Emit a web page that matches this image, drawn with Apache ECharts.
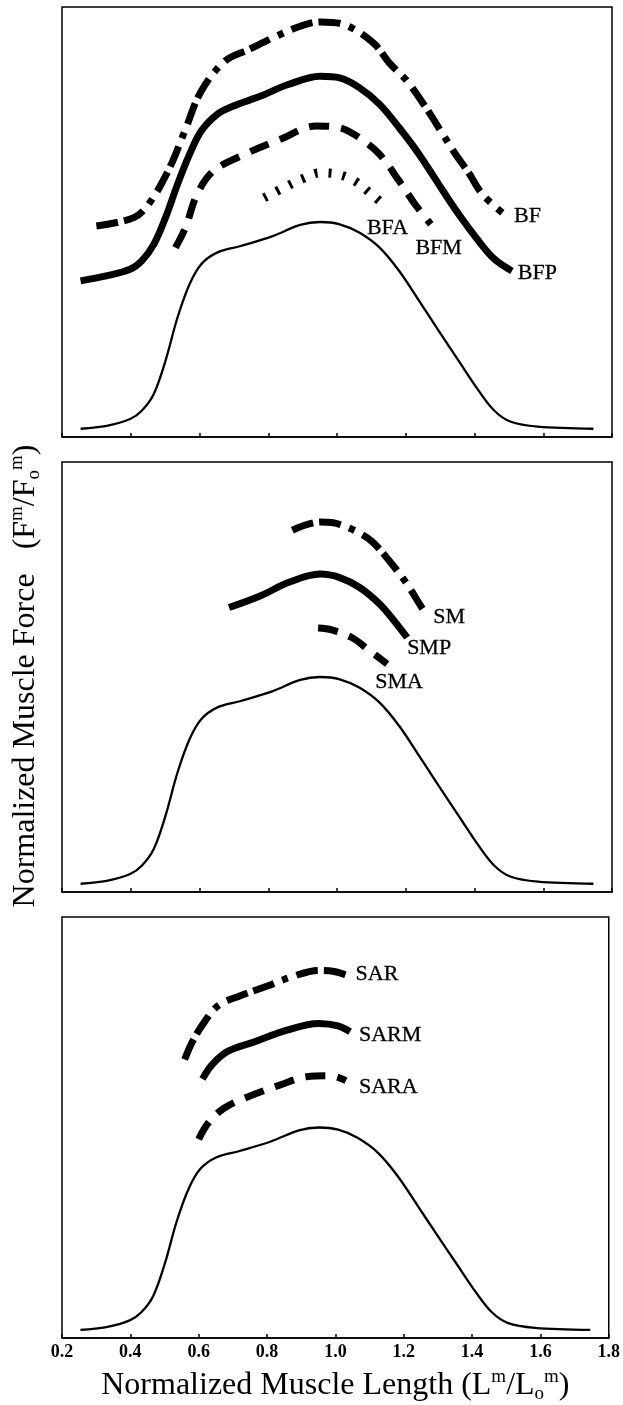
<!DOCTYPE html>
<html><head><meta charset="utf-8">
<script src="https://cdn.jsdelivr.net/npm/echarts@6/dist/echarts.min.js"></script>
<style>html,body{margin:0;padding:0;background:#fff}#c{width:623px;height:1405px}</style>
</head><body><div id="c"></div>
<script>
// generic normalized force-length curve (thin line, same in all panels)
const flX = [0.254,0.33,0.398,0.432,0.467,0.501,0.536,0.571,0.605,0.651,0.72,0.813,0.893,0.951,1.008,1.066,1.124,1.181,1.239,1.296,1.354,1.412,1.458,1.504,1.584,1.746];
const flY = [0.0,0.014,0.047,0.087,0.168,0.328,0.538,0.699,0.796,0.852,0.884,0.932,0.986,1.0,0.989,0.948,0.876,0.763,0.618,0.473,0.328,0.184,0.087,0.035,0.01,0.0];

// Panel 1: biceps femoris
const bfX  = [0.3,0.409,0.455,0.513,0.559,0.605,0.674,0.743,0.824,0.893,0.951,1.02,1.106,1.152,1.204,1.256,1.308,1.342,1.383,1.423,1.481];
const bfY  = [0.981,1.021,1.093,1.262,1.448,1.633,1.778,1.834,1.899,1.947,1.968,1.955,1.866,1.77,1.681,1.56,1.424,1.335,1.238,1.134,1.045];
const bfpX = [0.254,0.329,0.398,0.432,0.467,0.501,0.536,0.571,0.605,0.651,0.697,0.778,0.858,0.951,1.008,1.066,1.124,1.181,1.239,1.296,1.354,1.412,1.458,1.509];
const bfpY = [0.715,0.739,0.771,0.812,0.892,1.021,1.182,1.327,1.44,1.52,1.56,1.609,1.665,1.705,1.697,1.649,1.569,1.456,1.327,1.182,1.037,0.908,0.82,0.763];
const bfmX = [0.53,0.559,0.593,0.64,0.72,0.835,0.939,1.008,1.066,1.124,1.181,1.227,1.273];
const bfmY = [0.876,0.972,1.134,1.246,1.319,1.4,1.464,1.456,1.407,1.327,1.198,1.086,0.989];
const bfaX = [0.788,0.85,0.9,0.951,1.0,1.05,1.1,1.135];
const bfaY = [1.117,1.17,1.21,1.238,1.232,1.2,1.135,1.086];

// Panel 2: semimembranosus
const smX  = [0.87,0.951,0.985,1.043,1.1,1.152,1.204,1.25,1.262];
const smY  = [1.71,1.75,1.747,1.715,1.658,1.562,1.449,1.328,1.312];
const smpX = [0.686,0.778,0.858,0.951,1.008,1.066,1.124,1.17,1.204];
const smpY = [1.336,1.393,1.457,1.498,1.481,1.433,1.353,1.264,1.191];
const smaX = [0.945,0.985,1.043,1.089,1.146];
const smaY = [1.237,1.228,1.191,1.135,1.063];

// Panel 3: sartorius
const sarX  = [0.559,0.582,0.617,0.657,0.72,0.801,0.876,0.951,0.997,1.037];
const sarY  = [1.336,1.425,1.522,1.602,1.65,1.699,1.747,1.776,1.771,1.75];
const sarmX = [0.611,0.64,0.686,0.766,0.858,0.951,1.008,1.043];
const sarmY = [1.24,1.312,1.377,1.425,1.481,1.514,1.502,1.473];
const saraX = [0.6,0.628,0.674,0.743,0.835,0.916,0.985,1.031];
const saraY = [0.942,1.022,1.095,1.151,1.208,1.251,1.256,1.232];

// curve labels [text, x, y]
const labels1 = [['BF',1.515,1.029],['BFA',1.087,0.971],['BFM',1.228,0.874],['BFP',1.526,0.754]];
const labels2 = [['SM',1.28,1.291],['SMP',1.204,1.137],['SMA',1.111,0.977]];
const labels3 = [['SAR',1.059,1.755],['SARM',1.069,1.456],['SARA',1.069,1.2]];

const xTicks = [0.2,0.4,0.6,0.8,1.0,1.2,1.4,1.6,1.8];

const zip = (a,b) => a.map((v,i)=>[v,b[i]]);
const SERIF = 'Liberation Serif';
const W = 7;
const STY = {
  solid:   {type:'solid', width:W},
  dashdot: {type:[22,6,22,9,6,9], width:W},
  dashed:  {type:[20,12], width:W},
  dotted:  {type:[3,11], width:9},
  thin:    {type:'solid', width:2.3}
};
function line(idx, xs, ys, sty){
  return {type:'line', xAxisIndex:idx, yAxisIndex:idx, data:zip(xs,ys), smooth:0.35, symbol:'none',
    lineStyle:Object.assign({color:'#000', cap:'butt'}, sty), silent:true, animation:false};
}
function labelSeries(idx, labs){
  return {type:'scatter', xAxisIndex:idx, yAxisIndex:idx, symbolSize:0, silent:true, animation:false,
    data: labs.map(l=>({name:l[0], value:[l[1],l[2]]})),
    label:{show:true, position:'right', distance:0, formatter:p=>p.name, color:'#000', opacity:1,
      fontFamily:SERIF, fontSize:22, textBorderColor:'#000', textBorderWidth:0.3}};
}
const tops = [7,462,917];
const grids = tops.map(t=>({left:62, top:t, width:550, height:430, show:true, borderColor:'#000', borderWidth:1.5, backgroundColor:'transparent'}));
const xAxes = tops.map((t,i)=>({
  gridIndex:i, type:'value', min:0.2, max:1.8, interval:0.2,
  axisLine:{show:true, onZero:false, lineStyle:{color:'#000', width:1.5}},
  axisTick:{show:true, inside:true, length:4, lineStyle:{color:'#000', width:1.5}},
  splitLine:{show:false},
  axisLabel:{show:i===2, color:'#000', fontFamily:SERIF, fontWeight:'bold', fontSize:18, margin:5, formatter:v=>v.toFixed(1), showMinLabel:true, showMaxLabel:true},
  name: i===2 ? 'Normalized Muscle Length (L{sup|m}/L{sub|o}{sup|m})' : '',
  nameLocation:'middle', nameGap:30,
  nameTextStyle:{color:'#000', fontFamily:SERIF, fontSize:32, lineHeight:36,
    rich:{sup:{fontSize:19, fontFamily:SERIF, color:'#000', verticalAlign:'top', lineHeight:18},
          sub:{fontSize:19, fontFamily:SERIF, color:'#000', verticalAlign:'bottom', lineHeight:18}}}
}));
const yAxes = tops.map((t,i)=>({gridIndex:i, type:'value', min:-0.04, max:2.04,
  axisLine:{show:false}, axisTick:{show:false}, axisLabel:{show:false}, splitLine:{show:false}}));

const series = [
  line(0, flX, flY, STY.thin),
  line(0, bfX, bfY, STY.dashdot),
  line(0, bfpX, bfpY, STY.solid),
  line(0, bfmX, bfmY, STY.dashed),
  line(0, bfaX, bfaY, STY.dotted),
  labelSeries(0, labels1),
  line(1, flX, flY, STY.thin),
  line(1, smX, smY, STY.dashdot),
  line(1, smpX, smpY, STY.solid),
  line(1, smaX, smaY, STY.dashed),
  labelSeries(1, labels2),
  line(2, flX, flY, STY.thin),
  line(2, sarX, sarY, STY.dashdot),
  line(2, sarmX, sarmY, STY.solid),
  line(2, saraX, saraY, STY.dashed),
  labelSeries(2, labels3)
];

const chart = echarts.init(document.getElementById('c'), null, {renderer:'canvas'});
chart.setOption({
  animation:false,
  backgroundColor:'#fff',
  grid:grids, xAxis:xAxes, yAxis:yAxes, series:series,
  graphic:[{
    type:'text', x:26, y:676, rotation:Math.PI/2, silent:true,
    style:{text:'Normalized Muscle Force   (F{sup|m}/F{sub|o}{sup|m})', fill:'#000', fontFamily:SERIF, fontSize:32, lineHeight:36,
      align:'center', verticalAlign:'middle',
      rich:{sup:{fontSize:19, fontFamily:SERIF, fill:'#000', verticalAlign:'top', lineHeight:19},
            sub:{fontSize:19, fontFamily:SERIF, fill:'#000', verticalAlign:'bottom', lineHeight:19}}}
  }]
});
</script></body></html>
